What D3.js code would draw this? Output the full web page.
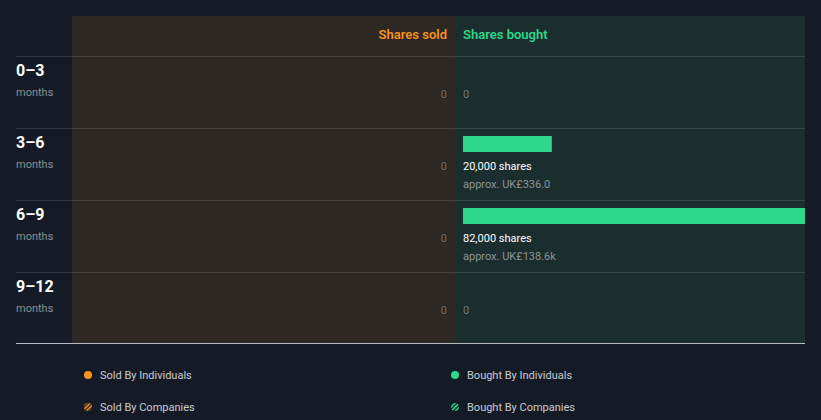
<!DOCTYPE html>
<html><head><meta charset="utf-8">
<script src="https://cdn.jsdelivr.net/npm/d3@7"></script>
<style>html,body{margin:0;padding:0;background:#151b26;}svg{display:block;font-family:Roboto,"Noto Sans",sans-serif;}</style>
</head><body><svg id="c" width="821" height="420"></svg>
<script>
const periods = ["0–3","3–6","6–9","9–12"];
const periodUnit = "months";
const sharesSold = [0,0,0,0];
const sharesBought = [0,20000,82000,0];
const boughtValue = ["","approx. UK£336.0","approx. UK£138.6k",""];
const legendItems = ["Sold By Individuals","Bought By Individuals","Sold By Companies","Bought By Companies"];

(function(){
const svg = d3.select("#c");
const pLeft=72, pMid=455, pRight=805, pTop=16, headerBottom=56, pBottom=344;
const orange="#f7931e", green="#2ed88a";

const y = d3.scaleBand().domain(periods).range([headerBottom,pBottom]);
const xB = d3.scaleLinear().domain([0,77000]).range([pMid+8,pRight]).clamp(true);

const defs = svg.append("defs");
function hatch(id,col){
  const p=defs.append("pattern").attr("id",id).attr("patternUnits","userSpaceOnUse").attr("width",3).attr("height",3).attr("patternTransform","rotate(45)");
  p.append("rect").attr("width",3).attr("height",3).attr("fill","#151b26");
  p.append("rect").attr("width",1.6).attr("height",3).attr("fill",col);
}
hatch("ho",orange); hatch("hg",green);

svg.append("rect").attr("x",pLeft).attr("y",pTop).attr("width",pMid-pLeft).attr("height",pBottom-1-pTop).attr("fill","#2d2823");
svg.append("rect").attr("x",pMid).attr("y",pTop).attr("width",pRight-pMid).attr("height",pBottom-1-pTop).attr("fill","#1b2e2e");

svg.append("text").attr("x",pMid-8).attr("y",39).attr("text-anchor","end").attr("fill",orange).attr("font-size",13).attr("font-weight",600).text("Shares sold");
svg.append("text").attr("x",pMid+8).attr("y",39).attr("fill",green).attr("font-size",13).attr("font-weight",600).text("Shares bought");

svg.selectAll("line.row").data(periods).join("line")
  .attr("x1",16).attr("x2",pRight).attr("y1",d=>y(d)+0.5).attr("y2",d=>y(d)+0.5)
  .attr("stroke","rgba(255,255,255,0.12)");
svg.append("line").attr("x1",16).attr("x2",pRight).attr("y1",pBottom-0.5).attr("y2",pBottom-0.5).attr("stroke","#b8bcc2");

const g = svg.selectAll("g.r").data(periods).join("g");
g.append("text").attr("x",16).attr("y",d=>y(d)+20).attr("fill","#fff").attr("font-size",16).attr("font-weight",700).text(d=>d);
g.append("text").attr("x",16).attr("y",d=>y(d)+40).attr("fill","#8b9097").attr("font-size",11).text(periodUnit);

periods.forEach((p,i)=>{
  const yy=y(p);
  if(sharesSold[i]===0){
    svg.append("text").attr("x",pMid-8).attr("y",yy+42).attr("text-anchor","end").attr("fill","#6b6d70").attr("font-size",11).text("0");
  }
  if(sharesBought[i]===0){
    svg.append("text").attr("x",pMid+8).attr("y",yy+42).attr("fill","#6b7a78").attr("font-size",11).text("0");
  } else {
    svg.append("rect").attr("x",xB(0)).attr("y",yy+8).attr("width",xB(sharesBought[i])-xB(0)).attr("height",16).attr("fill",green);
    svg.append("text").attr("x",pMid+8).attr("y",yy+42).attr("fill","#fff").attr("font-size",11).attr("font-weight",400).text(d3.format(",")(sharesBought[i])+" shares");
    svg.append("text").attr("x",pMid+8).attr("y",yy+60).attr("fill","#8b9497").attr("font-size",11).text(boughtValue[i]);
  }
});

const lx=[88,455], ly=[375,407];
legendItems.forEach((t,i)=>{
  const cx=lx[i%2], cy=ly[Math.floor(i/2)];
  const isSold = i%2===0, comp = i>=2;
  svg.append("circle").attr("cx",cx).attr("cy",cy).attr("r",4)
    .attr("fill", comp ? (isSold?"url(#ho)":"url(#hg)") : (isSold?orange:green));
  svg.append("text").attr("x",cx+12).attr("y",cy+4).attr("fill","#c9ccd0").attr("font-size",11).text(t);
});
})();
</script></body></html>
